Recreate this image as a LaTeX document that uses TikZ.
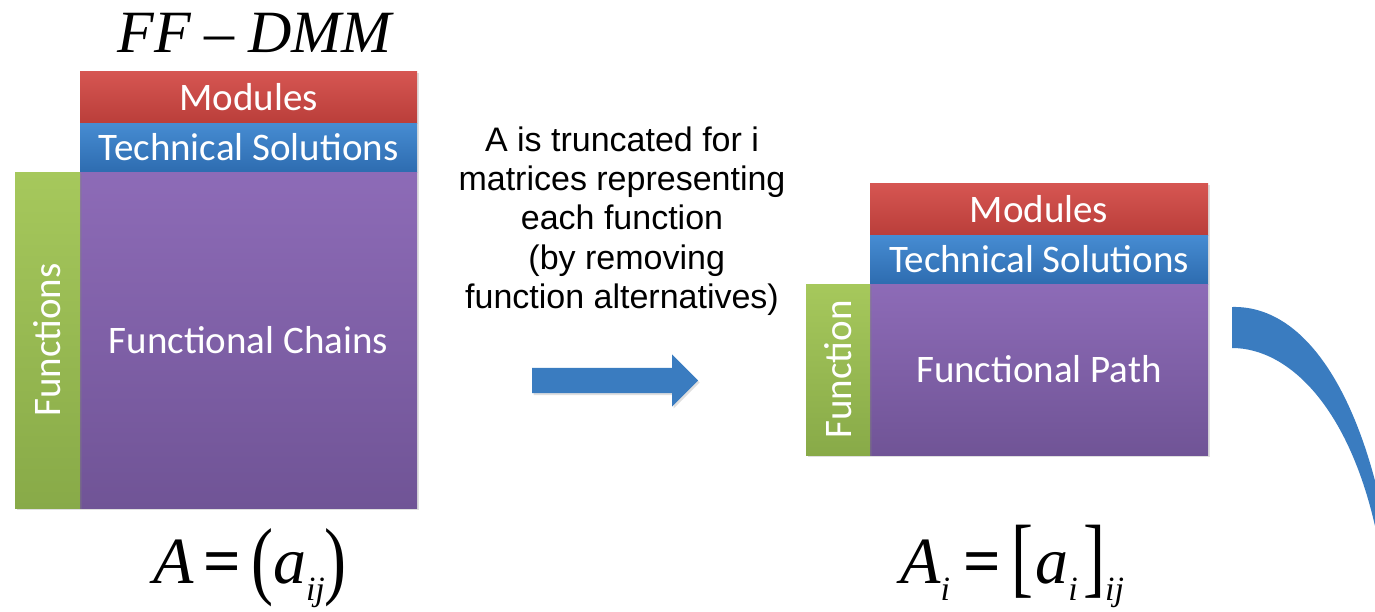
\documentclass[tikz,border=0pt]{standalone}
\usepackage{fontspec}
\usepackage{graphicx}
\setmainfont{Liberation Sans}
\newfontfamily\boxfont{Carlito}
\newfontfamily\eqfont{Liberation Serif}
\usepackage{tikz}
\usetikzlibrary{shapes.arrows, positioning, shadows}

\definecolor{redtop}{RGB}{214,86,82}
\definecolor{redbot}{RGB}{186,62,58}
\definecolor{bluetop}{RGB}{70,140,210}
\definecolor{bluebot}{RGB}{46,108,176}
\definecolor{purptop}{RGB}{141,107,183}
\definecolor{purpbot}{RGB}{112,84,150}
\definecolor{greentop}{RGB}{166,200,92}
\definecolor{greenbot}{RGB}{136,170,72}
\definecolor{arrowblue}{RGB}{58,124,192}

\newcommand{\eqsub}[1]{\raisebox{-17pt}{\fontsize{34}{34}\selectfont\textit{#1}}}
\newcommand{\bigparen}[1]{\raisebox{-5pt}{\scalebox{1}[1.31]{#1}}}
\newcommand{\bigbrack}[1]{\raisebox{-3.5pt}{\scalebox{1}[1.34]{#1}}}

\begin{document}
\begin{tikzpicture}[x=1pt, y=-1pt,
    layer/.style={rectangle, inner sep=0pt, outer sep=0pt, text=white, font=\boxfont\fontsize{39}{42}\selectfont,
        drop shadow={opacity=0.25, shadow xshift=1.5pt, shadow yshift=-2pt}},
    modblock/.style={layer, top color=redtop, bottom color=redbot, minimum height=52pt},
    techblock/.style={layer, top color=bluetop, bottom color=bluebot, minimum height=49pt},
    chainblock/.style={layer, top color=purptop, bottom color=purpbot},
    funcblock/.style={layer, top color=greentop, bottom color=greenbot},
    vlabel/.style={rotate=90, text=white, inner sep=0pt, font=\boxfont\fontsize{39}{42}\selectfont},
    eqn/.style={inner sep=0pt, font=\eqfont\fontsize{66}{70}\selectfont},
    titlefont/.style={inner sep=0pt, font=\eqfont\fontsize{60}{64}\selectfont},
    note/.style={inner sep=0pt, align=center, font=\fontsize{34}{39.3}\selectfont},
    bigarrow/.style={single arrow, fill=arrowblue, inner xsep=0pt, inner ysep=12.5pt, minimum height=166pt,
        single arrow head extend=13.5pt, single arrow tip angle=90,
        drop shadow={opacity=0.25, shadow xshift=1.5pt, shadow yshift=-2pt}}
]
    \useasboundingbox (0,0) rectangle (1375,611);

    % Full matrix on the left
    \node[titlefont, anchor=base] (ttl) at (256,52) {\textit{FF}\hspace{0.22em}–\hspace{0.22em}\textit{DMM}};
    \node[modblock, anchor=north west, minimum width=337pt] (modL) at (80,71) {Modules};
    \node[techblock, below=0pt of modL, minimum width=337pt] (techL) {Technical Solutions};
    \node[chainblock, below=0pt of techL, minimum width=337pt, minimum height=336pt] (chainL) {Functional Chains};
    \node[funcblock, left=0pt of chainL, minimum width=65pt, minimum height=336pt] (funcL) {};
    \node[vlabel] (funcLtxt) at (funcL.center) {Functions};
    \node[eqn, anchor=base] (eqL) at (250,583)
        {\textit{A}\hspace{0.15em}\textbf{=}\hspace{0.15em}\bigparen{(}\textit{a}\eqsub{ij}\bigparen{)}};

    % Truncation step
    \node[note] (noteTxt) at (622,221) {A is truncated for i~\\matrices representing\\each function\\~(by removing\\function alternatives)};
    \node[bigarrow, anchor=west] (truncArrow) at (532,380.5) {};

    % Matrix for one function
    \node[modblock, anchor=north west, minimum width=338pt] (modR) at (870,183) {Modules};
    \node[techblock, below=0pt of modR, minimum width=338pt] (techR) {Technical Solutions};
    \node[chainblock, below=0pt of techR, minimum width=338pt, minimum height=171pt] (pathR) {Functional Path};
    \node[funcblock, left=0pt of pathR, minimum width=64pt, minimum height=171pt] (funcR) {};
    \node[vlabel] (funcRtxt) at (funcR.center) {Function};
    \node[eqn, anchor=base] (eqR) at (1012,583)
        {\textit{A}\eqsub{i}\hspace{0.2em}\textbf{=}\hspace{0.16em}\bigbrack{[}\hspace{0.03em}\textit{a}\eqsub{i}\hspace{0.08em}\bigbrack{]}\eqsub{ij}};

    % Curved arrow leaving the picture
    \begin{scope}
        \clip (0,0) rectangle (1375,611);
        \fill[arrowblue] (1232,307) .. controls (1308,305) and (1362,400) .. (1386,530)
            -- (1378,540) .. controls (1352,410) and (1290,348) .. (1232,348) -- cycle;
    \end{scope}
\end{tikzpicture}
\end{document}
